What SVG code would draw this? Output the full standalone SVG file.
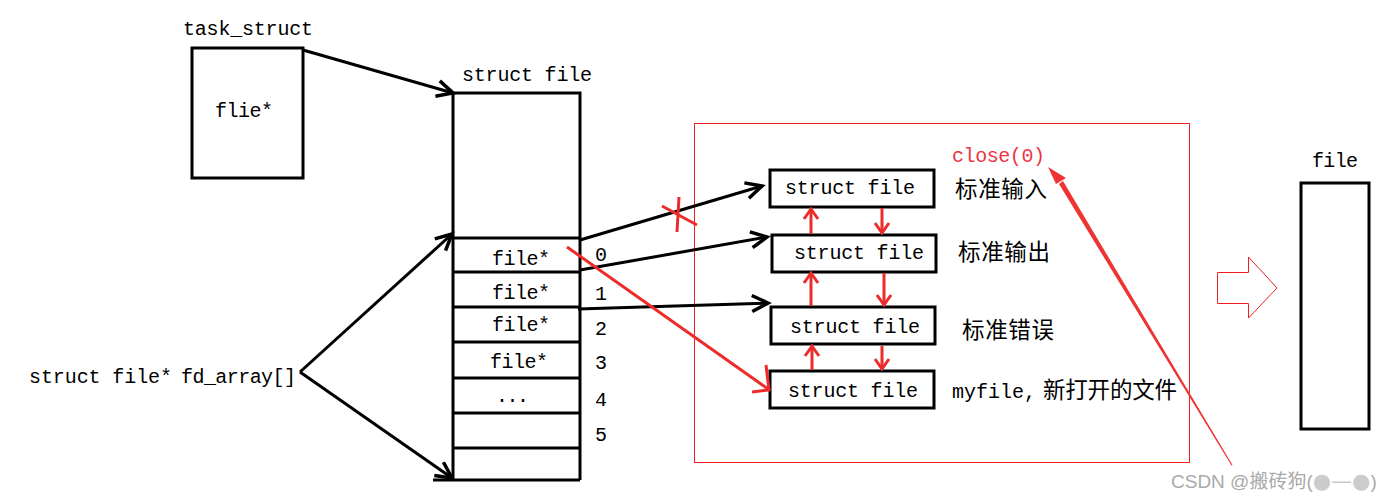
<svg xmlns="http://www.w3.org/2000/svg" width="1388" height="501" viewBox="0 0 1388 501">
<style>
.t{font-family:"Liberation Mono","DejaVu Sans Mono",monospace;font-size:20px;fill:#000}
.cn{font-family:"Liberation Mono","Noto Sans CJK SC",monospace;font-size:22.5px;fill:#000}
.box{fill:#fff;stroke:#000;stroke-width:3}
.ln{fill:none;stroke:#000;stroke-width:3}
.rl{fill:none;stroke:#ee2b2b;stroke-width:3}
.thin{fill:none;stroke:#ee2020;stroke-width:1}
</style>
<defs>
<marker id="ah" markerUnits="userSpaceOnUse" markerWidth="30" markerHeight="30" refX="0" refY="0" viewBox="-20 -15 30 30" orient="auto" overflow="visible">
<path d="M-16,-8 L0,0 L-16,8" fill="none" stroke="#000" stroke-width="3.5"/>
</marker>
<marker id="rh" markerUnits="userSpaceOnUse" markerWidth="30" markerHeight="30" refX="0" refY="0" viewBox="-20 -15 30 30" orient="auto" overflow="visible">
<path d="M-10,-7 L0,0 L-10,7" fill="none" stroke="#ee2b2b" stroke-width="3"/>
</marker>
</defs>
<rect width="1388" height="501" fill="#fff"/>

<g id="task_struct">
<text class="t" x="183" y="35" textLength="130">task_struct</text>
<rect class="box" x="192" y="48" width="111" height="130"/>
<text class="t" x="215" y="117" textLength="58">flie*</text>
</g>

<g id="fd_label">
<text class="t" x="29" y="383" textLength="143">struct file*</text>
<text class="t" x="181" y="383" textLength="115">fd_array[]</text>
</g>

<g id="file_table">
<text class="t" x="462" y="81" textLength="130">struct file</text>
<path class="ln" d="M453,93 H580 V480 M453,93 V480 M433,480 H580"/>
<path class="ln" d="M453,238 H580 M453,272 H580 M453,307 H580 M453,342 H580 M453,378 H580 M453,413 H580 M453,448 H580"/>
<text class="t" x="492" y="265" textLength="58">file*</text>
<text class="t" x="492" y="299" textLength="58">file*</text>
<text class="t" x="492" y="331" textLength="58">file*</text>
<text class="t" x="490" y="368" textLength="58">file*</text>
<text class="t" x="496" y="402" textLength="33">...</text>
<text class="t" x="595" y="261">0</text>
<text class="t" x="595" y="300">1</text>
<text class="t" x="595" y="335">2</text>
<text class="t" x="595" y="369">3</text>
<text class="t" x="595" y="406">4</text>
<text class="t" x="595" y="441">5</text>
</g>

<g id="open_files">
<rect x="694.5" y="123.5" width="495" height="339" fill="none" stroke="#ee2020" stroke-width="1" shape-rendering="crispEdges"/>
<text x="952" y="162" font-family="Liberation Mono, monospace" font-size="20" fill="#ee3344" textLength="93">close(0)</text>
</g>

<g id="sf1">
<rect class="box" x="770" y="170" width="164" height="37"/>
<text class="t" x="785" y="194" textLength="130">struct file</text>
<text class="cn" x="955" y="197" textLength="92">标准输入</text>
</g>
<g id="sf2">
<rect class="box" x="772" y="235" width="164" height="37"/>
<text class="t" x="794" y="259" textLength="130">struct file</text>
<text class="cn" x="958" y="260" textLength="92">标准输出</text>
</g>
<g id="sf3">
<rect class="box" x="771" y="307" width="164" height="37"/>
<text class="t" x="790" y="333" textLength="130">struct file</text>
<text class="cn" x="962" y="338" textLength="92">标准错误</text>
</g>
<g id="sf4">
<rect class="box" x="770" y="371" width="164" height="37"/>
<text class="t" x="788" y="397" textLength="130">struct file</text>
<text class="cn" x="952" y="398"><tspan font-size="20">myfile,</tspan><tspan x="1043" textLength="134">新打开的文件</tspan></text>
</g>

<g id="file_right">
<text class="t" x="1312" y="167" textLength="46">file</text>
<rect class="box" x="1301" y="183" width="68" height="246"/>
</g>

<g id="connectors">
<line class="ln" x1="303" y1="50" x2="453" y2="93" marker-end="url(#ah)"/>
<line class="ln" x1="300" y1="372" x2="452" y2="234" marker-end="url(#ah)"/>
<line class="ln" x1="300" y1="372" x2="452" y2="478" marker-end="url(#ah)"/>
<line class="ln" x1="580" y1="240" x2="762" y2="186" marker-end="url(#ah)"/>
<line class="ln" x1="580" y1="270" x2="767" y2="237" marker-end="url(#ah)"/>
<line class="ln" x1="578" y1="309" x2="768" y2="303" marker-end="url(#ah)"/>
<path class="rl" d="M662,206 L697,225 M679,197 L677,232"/>
<line class="rl" x1="567" y1="247" x2="768" y2="389"/>
<path class="rl" d="M766,365 L769,390 L752,392"/>
<line class="rl" x1="811" y1="234" x2="811" y2="209" marker-end="url(#rh)"/>
<line class="rl" x1="811" y1="306" x2="811" y2="273" marker-end="url(#rh)"/>
<line class="rl" x1="812" y1="370" x2="812" y2="346" marker-end="url(#rh)"/>
<line class="rl" x1="882" y1="208" x2="882" y2="233" marker-end="url(#rh)"/>
<line class="rl" x1="884" y1="273" x2="884" y2="305" marker-end="url(#rh)"/>
<line class="rl" x1="882" y1="346" x2="882" y2="369" marker-end="url(#rh)"/>
<polygon points="1232.5,465 1231.5,465.6 1059,184 1063,181" fill="#ee3333"/>
<polygon points="1048,167 1066,178 1056,184" fill="#ee3333"/>
<polygon class="thin" points="1217.5,272.5 1248.5,272.5 1248.5,257 1277,288 1248.5,318 1248.5,303.5 1217.5,303.5"/>
</g>

<text x="1171" y="488" font-family="Liberation Sans, Noto Sans CJK SC, sans-serif" font-size="19" fill="#aaa">CSDN @搬砖狗(<tspan font-family="DejaVu Sans, sans-serif" font-size="21" fill="#ccc">●—●</tspan>)</text>
</svg>
